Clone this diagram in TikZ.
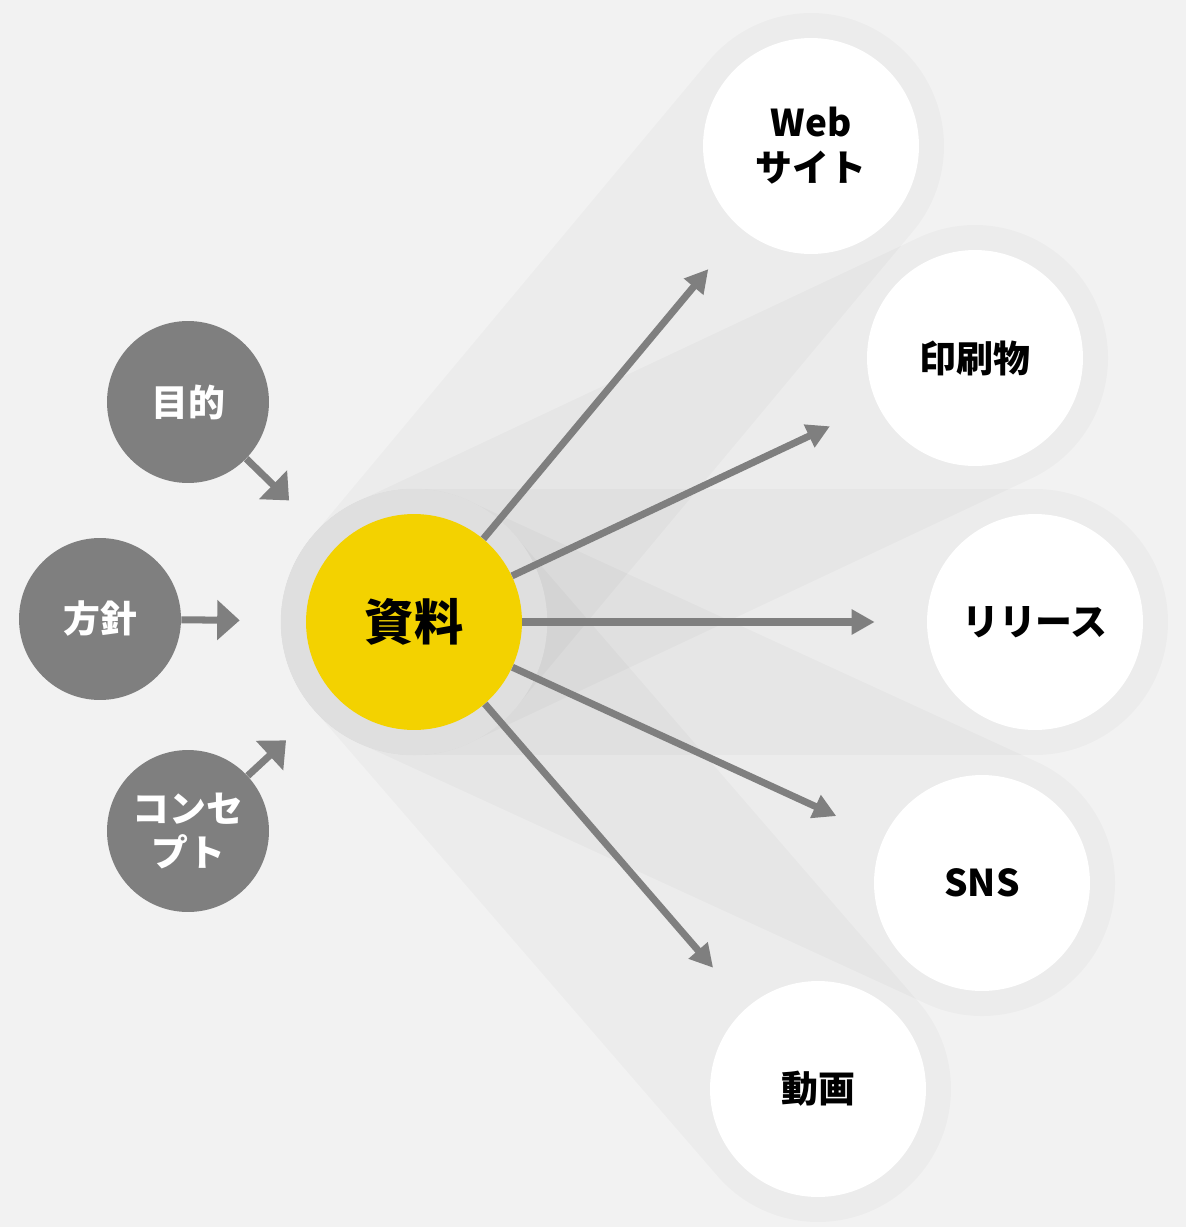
\documentclass[tikz,border=0pt]{standalone}
\usepackage{fontspec}
\setmainfont{Noto Sans CJK JP}
\usetikzlibrary{arrows.meta,backgrounds}
\definecolor{bgcolor}{HTML}{F2F2F2}
\definecolor{hubyellow}{HTML}{F3D200}
\definecolor{srcgray}{HTML}{7F7F7F}
\definecolor{ringgray}{HTML}{DFDFDF}
\tikzset{
  hub/.style={circle,fill=hubyellow,inner sep=0pt,minimum size=4.32cm,
    font=\fontsize{28}{32}\selectfont\bfseries},
  target/.style={circle,fill=white,inner sep=0pt,minimum size=4.32cm,align=center,
    font=\fontsize{21}{25.5}\selectfont\bfseries},
  source/.style={circle,fill=srcgray,text=white,inner sep=0pt,minimum size=3.24cm,align=center,
    font=\fontsize{21}{25.5}\selectfont\bfseries},
  cone/.style={line width=5.32cm,line cap=round,draw=black,draw opacity=0.025},
  outarrow/.style={draw=srcgray,line width=4pt,shorten >=1.04cm,
    -{Triangle[length=0.46cm,width=0.48cm]}},
  inarrow/.style={draw=srcgray,line width=4pt,shorten >=1.32cm,
    -{Triangle[length=0.45cm,width=0.78cm]}}
}
\begin{document}
\begin{tikzpicture}[x=0.02cm,y=-0.02cm]
\useasboundingbox (0,0) rectangle (1186,1227);
\node[hub] (hub) at (414,622) {資料};
\node[target] (web) at (811,146) {Web\\サイト};
\node[target] (print) at (975,358) {印刷物};
\node[target] (release) at (1035,622) {リリース};
\node[target] (sns) at (982,883) {SNS};
\node[target] (movie) at (818,1089) {動画};
\node[source] (goal) at (188,402) {目的};
\node[source] (policy) at (100,619) {方針};
\node[source] (concept) at (188,831) {コンセ\\プト};
\begin{scope}[on background layer]
\fill[bgcolor] (0,0) rectangle (1186,1227);
\foreach \to in {web,print,release,sns,movie}
  \draw[cone] (hub.center) -- (\to.center);
\fill[ringgray] (hub.center) circle (133.2);
\end{scope}
\foreach \to in {web,print,release,sns,movie}
  \draw[outarrow] (hub) -- (\to);
\foreach \from in {goal,policy,concept}
  \draw[inarrow] (\from) -- (hub);
\end{tikzpicture}
\end{document}
